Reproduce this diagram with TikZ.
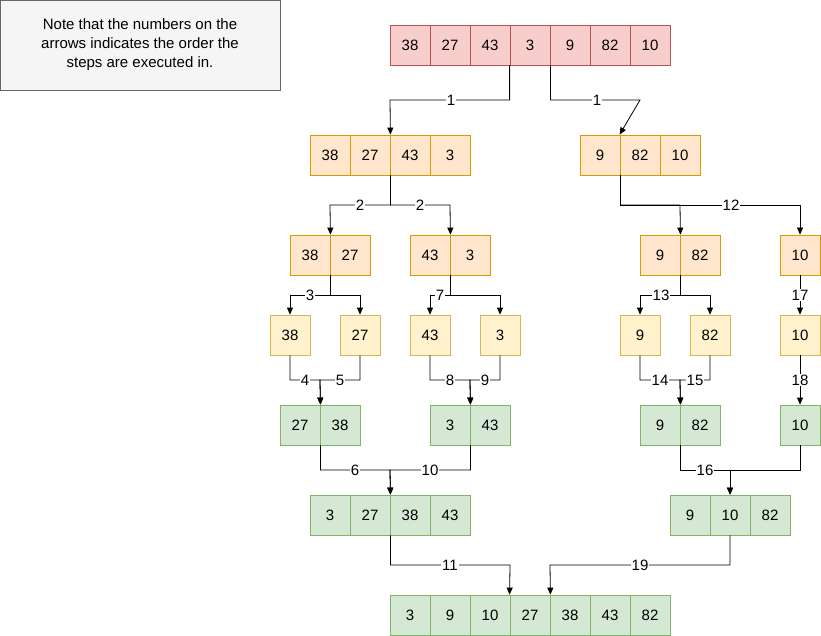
\documentclass[tikz,border=0pt]{standalone}
\usepackage{fontspec}
\setmainfont{Liberation Sans}
\usetikzlibrary{arrows.meta}
\definecolor{rf}{HTML}{F8CECC}\definecolor{rd}{HTML}{B85450}
\definecolor{of}{HTML}{FFE6CC}\definecolor{od}{HTML}{D79B00}
\definecolor{yf}{HTML}{FFF2CC}\definecolor{yd}{HTML}{D6B656}
\definecolor{gf}{HTML}{D5E8D4}\definecolor{gd}{HTML}{82B366}
\definecolor{nf}{HTML}{F5F5F5}\definecolor{nd}{HTML}{666666}
\newcommand{\cellrow}[5]{\foreach \v [count=\i] in {#5} {\node[cellbox,#4] (#1\i) at ({#2+40*\i-20},{#3+20}) {\v};}}
\begin{document}
\begin{tikzpicture}[x=1pt,y=-1pt,
  cellbox/.style={draw,minimum width=40pt,minimum height=40pt,inner sep=0pt,line width=0.8pt,font=\fontsize{15}{18}\selectfont},
  red/.style={fill=rf,draw=rd}, org/.style={fill=of,draw=od},
  yel/.style={fill=yf,draw=yd}, grn/.style={fill=gf,draw=gd},
  conn/.style={draw,line width=0.8pt,-{Triangle[length=7pt,width=6pt]}},
  lbl/.style={fill=white,inner sep=1pt,font=\fontsize{15}{18}\selectfont}]
\useasboundingbox (0,0) rectangle (821,636);
\node[draw=nd,fill=nf,line width=0.8pt,minimum width=280pt,minimum height=90pt,align=center,font=\fontsize{15}{19}\selectfont] (note) at (140,45) {Note that the numbers on the\\arrows indicates the order the\\steps are executed in.};
\cellrow{a}{390}{25}{red}{38,27,43,3,9,82,10}
\cellrow{b}{310}{135}{org}{38,27,43,3}
\cellrow{c}{580}{135}{org}{9,82,10}
\cellrow{d}{290}{235}{org}{38,27}
\cellrow{e}{410}{235}{org}{43,3}
\cellrow{f}{640}{235}{org}{9,82}
\cellrow{g}{780}{235}{org}{10}
\cellrow{h}{270}{315}{yel}{38}
\cellrow{i}{340}{315}{yel}{27}
\cellrow{j}{410}{315}{yel}{43}
\cellrow{k}{480}{315}{yel}{3}
\cellrow{m}{620}{315}{yel}{9}
\cellrow{n}{690}{315}{yel}{82}
\cellrow{o}{780}{315}{yel}{10}
\cellrow{p}{280}{405}{grn}{27,38}
\cellrow{q}{430}{405}{grn}{3,43}
\cellrow{r}{640}{405}{grn}{9,82}
\cellrow{s}{780}{405}{grn}{10}
\cellrow{t}{310}{495}{grn}{3,27,38,43}
\cellrow{u}{670}{495}{grn}{9,10,82}
\cellrow{w}{390}{595}{grn}{3,9,10,27,38,43,82}
% connectors
\draw[conn] (a4.south west) |- (390,100) -- (b2.north east);
\draw[conn] (a4.south east) |- (640,100) -- (c2.north west);
\draw[conn] (b2.south east) |- (330,205) -- (d1.north east);
\draw[conn] (b2.south east) |- (450,205) -- (e1.north east);
\draw[conn] (c1.south east) |- (680,205) -- (f1.north east);
\draw[conn] (c1.south east) |- (800,205) -- (g1.north);
\draw[conn] (d1.south east) |- (290,295) -- (h1.north);
\draw[conn] (d1.south east) |- (360,295) -- (i1.north);
\draw[conn] (e1.south east) |- (430,295) -- (j1.north);
\draw[conn] (e1.south east) |- (500,295) -- (k1.north);
\draw[conn] (f1.south east) |- (640,295) -- (m1.north);
\draw[conn] (f1.south east) |- (710,295) -- (n1.north);
\draw[conn] (g1.south) -- (o1.north);
\draw[conn] (h1.south) |- (320,380) -- (p1.north east);
\draw[conn] (i1.south) |- (320,380) -- (p1.north east);
\draw[conn] (j1.south) |- (470,380) -- (q1.north east);
\draw[conn] (k1.south) |- (470,380) -- (q1.north east);
\draw[conn] (m1.south) |- (680,380) -- (r1.north east);
\draw[conn] (n1.south) |- (680,380) -- (r1.north east);
\draw[conn] (o1.south) -- (s1.north);
\draw[conn] (p1.south east) |- (390,470) -- (t2.north east);
\draw[conn] (q1.south east) |- (390,470) -- (t2.north east);
\draw[conn] (r1.south east) |- (730,470) -- (u2.north);
\draw[conn] (s1.south) |- (730,470) -- (u2.north);
\draw[conn] (t2.south east) |- (510,565) -- (w4.north west);
\draw[conn] (u2.south) |- (550,565) -- (w4.north east);
% labels
\node[lbl] (l1a) at (451,100) {1};
\node[lbl] (l1b) at (597,100) {1};
\node[lbl] (l2a) at (360,205) {2};
\node[lbl] (l2b) at (420,205) {2};
\node[lbl] (l12) at (731,205) {12};
\node[lbl] (l3) at (310,295) {3};
\node[lbl] (l7) at (440,295) {7};
\node[lbl] (l13) at (661,295) {13};
\node[lbl] (l17) at (800,295) {17};
\node[lbl] (l4) at (305,380) {4};
\node[lbl] (l5) at (340,380) {5};
\node[lbl] (l8) at (450,380) {8};
\node[lbl] (l9) at (485,380) {9};
\node[lbl] (l14) at (660,380) {14};
\node[lbl] (l15) at (695,380) {15};
\node[lbl] (l18) at (800,380) {18};
\node[lbl] (l6) at (355,470) {6};
\node[lbl] (l10) at (430,470) {10};
\node[lbl] (l16) at (705,470) {16};
\node[lbl] (l11) at (450,565) {11};
\node[lbl] (l19) at (640,565) {19};
\end{tikzpicture}
\end{document}
